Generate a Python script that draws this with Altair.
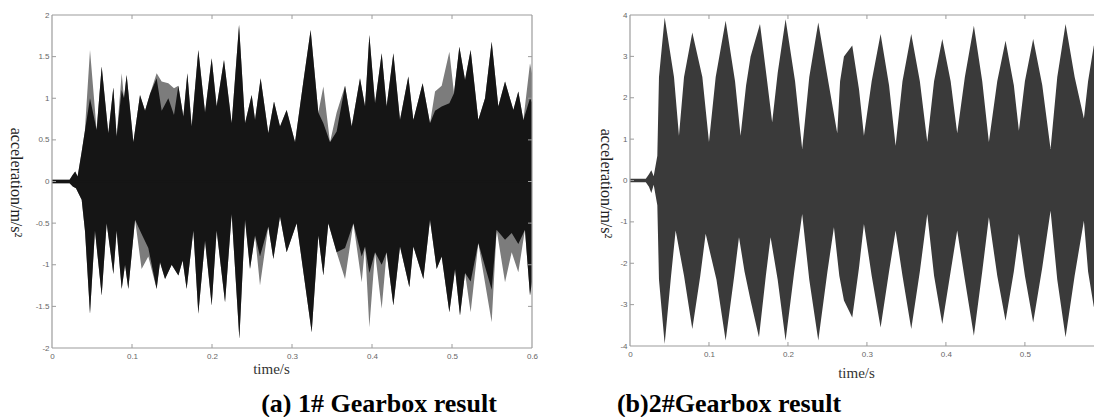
import altair as alt
import pandas as pd

# ---------------- Panel (a): 1# gearbox (envelope) ----------------
a_up_t = [0.000, 0.022, 0.026, 0.029, 0.032, 0.037, 0.041, 0.0475, 0.0558, 0.0621, 0.0704, 0.0767,
          0.0808, 0.0871, 0.0900, 0.0933, 0.1017, 0.1100, 0.1163, 0.1225, 0.1308, 0.1371, 0.1454,
          0.1525, 0.1579, 0.1642, 0.1692, 0.1746, 0.1829, 0.1913, 0.1996, 0.2058, 0.2150, 0.2246,
          0.2338, 0.2413, 0.2496, 0.2538, 0.2608, 0.2704, 0.2775, 0.2850, 0.2933, 0.3038, 0.3142,
          0.3233, 0.3329, 0.3392, 0.3475, 0.3558, 0.3663, 0.3746, 0.3850, 0.3913, 0.3967, 0.4038,
          0.4121, 0.4183, 0.4267, 0.4350, 0.4454, 0.4517, 0.4633, 0.4725, 0.4788, 0.4871, 0.4967,
          0.5025, 0.5092, 0.5163, 0.5233, 0.5329, 0.5413, 0.5496, 0.5579, 0.5663, 0.5767, 0.5829,
          0.5892, 0.5975, 0.6000]
a_up_gray = [0.02, 0.02, 0.08, 0.12, 0.06, 0.35, 0.60, 1.58, 0.62, 1.38, 0.58, 1.13,
             0.54, 1.30, 1.00, 1.28, 0.47, 1.04, 0.85, 1.05, 1.30, 1.20, 1.18,
             1.12, 1.15, 0.78, 1.30, 0.66, 1.58, 0.83, 1.48, 0.90, 1.46, 0.70,
             1.88, 0.70, 1.04, 0.74, 1.24, 0.58, 0.96, 0.66, 0.86, 0.47, 1.20,
             1.82, 0.83, 1.14, 0.47, 0.83, 1.15, 0.66, 1.24, 0.90, 1.76, 0.94,
             1.54, 0.90, 1.54, 0.74, 1.26, 0.74, 1.18, 0.70, 1.08, 1.15, 1.56,
             1.06, 1.62, 1.22, 1.58, 0.74, 1.00, 1.68, 0.90, 1.20, 0.86, 1.08,
             0.74, 1.42, 1.30]
a_up_black = [0.02, 0.02, 0.08, 0.12, 0.06, 0.35, 0.60, 1.00, 0.62, 1.38, 0.58, 1.13,
              0.54, 1.10, 1.00, 1.28, 0.47, 1.04, 0.85, 1.05, 1.24, 0.85, 1.00,
              0.80, 1.15, 0.78, 1.30, 0.66, 1.58, 0.83, 1.48, 0.90, 1.46, 0.70,
              1.88, 0.70, 1.04, 0.74, 1.24, 0.58, 0.96, 0.66, 0.86, 0.47, 1.20,
              1.82, 0.83, 0.70, 0.47, 0.60, 1.15, 0.66, 1.24, 0.90, 1.76, 0.94,
              1.54, 0.90, 1.54, 0.74, 1.26, 0.74, 1.18, 0.70, 0.85, 0.90, 0.94,
              1.06, 1.62, 1.22, 1.58, 0.74, 1.00, 1.68, 0.90, 1.20, 0.86, 1.08,
              0.74, 1.00, 0.95]

a_lo_t = [0.000, 0.022, 0.026, 0.030, 0.0371, 0.0413, 0.0475, 0.0537, 0.0621, 0.0683, 0.0767,
          0.0808, 0.0871, 0.0913, 0.0954, 0.1038, 0.1120, 0.1204, 0.1308, 0.1350, 0.1413, 0.1496,
          0.1580, 0.1633, 0.1683, 0.1767, 0.1829, 0.1913, 0.1996, 0.2058, 0.2163, 0.2246, 0.2342,
          0.2413, 0.2475, 0.2538, 0.2600, 0.2704, 0.2767, 0.2850, 0.2933, 0.3058, 0.3246, 0.3329,
          0.3392, 0.3454, 0.3558, 0.3663, 0.3767, 0.3871, 0.3913, 0.3967, 0.4038, 0.4121, 0.4183,
          0.4267, 0.4350, 0.4467, 0.4517, 0.4642, 0.4725, 0.4808, 0.4871, 0.4967, 0.5038, 0.5100,
          0.5163, 0.5233, 0.5329, 0.5496, 0.5558, 0.5663, 0.5746, 0.5829, 0.5912, 0.5975, 0.6000]
a_lo_gray = [-0.02, -0.02, -0.06, -0.08, -0.22, -0.60, -1.59, -0.59, -1.37, -0.50, -1.11,
             -0.59, -1.29, -1.00, -1.29, -0.46, -1.05, -0.90, -1.29, -0.97, -1.17, -1.00,
             -1.13, -0.95, -1.29, -0.59, -1.59, -0.71, -1.49, -0.59, -1.45, -0.39, -1.89,
             -0.46, -1.05, -0.65, -1.25, -0.54, -0.93, -0.42, -0.85, -0.50, -1.81, -0.65,
             -1.13, -0.50, -0.85, -1.17, -0.50, -1.21, -0.78, -1.75, -0.85, -1.53, -0.85,
             -1.49, -0.78, -1.27, -0.78, -1.17, -0.46, -1.05, -0.90, -1.57, -1.05, -1.61,
             -1.10, -1.57, -0.74, -1.69, -0.58, -1.21, -0.85, -1.09, -0.58, -1.37, -1.20]
a_lo_black = [-0.02, -0.02, -0.06, -0.08, -0.22, -0.60, -1.59, -0.59, -1.37, -0.50, -1.11,
              -0.59, -1.29, -1.00, -1.29, -0.46, -0.63, -0.80, -1.29, -0.97, -1.17, -1.00,
              -1.13, -0.95, -1.29, -0.59, -1.59, -0.71, -1.49, -0.59, -1.45, -0.39, -1.89,
              -0.46, -1.05, -0.65, -0.90, -0.54, -0.93, -0.42, -0.85, -0.50, -1.81, -0.65,
              -1.13, -0.50, -0.85, -0.80, -0.50, -0.90, -0.78, -1.10, -0.85, -1.00, -0.85,
              -1.49, -0.78, -1.27, -0.78, -1.17, -0.46, -1.05, -0.90, -1.57, -1.05, -1.61,
              -1.10, -1.20, -0.74, -1.30, -0.58, -0.70, -0.62, -0.75, -0.58, -1.37, -1.20]

# ---------------- Panel (b): 2# gearbox (lobe peaks, flank points and troughs) ----------------
b_up_t = [0.000, 0.020, 0.024, 0.027, 0.030, 0.0346, 0.0367, 0.0439, 0.0557, 0.0620, 0.0684,
          0.0789, 0.0916, 0.1000, 0.1085, 0.1211, 0.1330, 0.1400, 0.1470, 0.1527, 0.1646,
          0.1730, 0.1800, 0.1870, 0.1970, 0.2090, 0.2180, 0.2270, 0.2384, 0.2510, 0.2624,
          0.2660, 0.2709, 0.2814, 0.2900, 0.2962, 0.3060, 0.3173, 0.3280, 0.3363, 0.3450,
          0.3561, 0.3670, 0.3764, 0.3850, 0.3954, 0.4060, 0.4143, 0.4240, 0.4354, 0.4460,
          0.4544, 0.4650, 0.4755, 0.4860, 0.4924, 0.5000, 0.5105, 0.5220, 0.5325, 0.5410,
          0.5515, 0.5630, 0.5747, 0.5800, 0.5873, 0.6000]
b_up_v = [0.04, 0.04, 0.15, 0.25, 0.10, 0.60, 2.50, 3.94, 2.50, 1.08, 2.50,
          3.58, 2.50, 0.93, 2.50, 3.86, 2.40, 1.08, 2.30, 3.00, 3.78,
          2.50, 1.41, 2.60, 3.90, 2.40, 0.76, 2.50, 3.82, 2.40, 1.14,
          2.40, 3.00, 3.26, 2.20, 1.08, 2.40, 3.54, 2.30, 0.84, 2.40,
          3.54, 2.40, 0.93, 2.40, 3.42, 2.40, 1.14, 2.50, 3.74, 2.40,
          0.93, 2.40, 3.38, 2.30, 1.20, 2.40, 3.42, 2.30, 0.76, 2.50,
          3.78, 2.50, 1.50, 2.40, 3.26, 2.50]
b_lo_t = [0.000, 0.020, 0.024, 0.027, 0.030, 0.0346, 0.0367, 0.0439, 0.0520, 0.0578, 0.0684,
          0.0789, 0.0890, 0.0958, 0.1095, 0.1211, 0.1320, 0.1380, 0.1450, 0.1527, 0.1633,
          0.1720, 0.1780, 0.1870, 0.1970, 0.2080, 0.2180, 0.2270, 0.2384, 0.2500, 0.2582,
          0.2650, 0.2709, 0.2814, 0.2900, 0.2962, 0.3060, 0.3173, 0.3280, 0.3363, 0.3450,
          0.3561, 0.3670, 0.3764, 0.3850, 0.3954, 0.4060, 0.4143, 0.4240, 0.4354, 0.4460,
          0.4544, 0.4650, 0.4755, 0.4860, 0.4924, 0.5000, 0.5105, 0.5220, 0.5325, 0.5410,
          0.5515, 0.5630, 0.5747, 0.5800, 0.5873, 0.6000]
b_lo_v = [-0.04, -0.04, -0.15, -0.30, -0.10, -0.60, -2.40, -3.95, -2.30, -1.21, -2.30,
          -3.59, -2.30, -1.29, -2.40, -3.87, -2.30, -1.37, -2.20, -2.90, -3.79,
          -2.30, -1.37, -2.40, -3.87, -2.20, -0.81, -2.40, -3.87, -2.20, -1.13,
          -2.30, -2.90, -3.31, -2.10, -1.05, -2.30, -3.55, -2.20, -1.21, -2.30,
          -3.59, -2.20, -0.81, -2.30, -3.47, -2.20, -1.21, -2.40, -3.75, -2.20,
          -0.89, -2.30, -3.39, -2.20, -1.29, -2.30, -3.43, -2.10, -0.73, -2.40,
          -3.79, -2.30, -0.97, -2.20, -3.06, -2.00]

# ---------------- Axes / text ----------------
a_xlabels = [0, 0.1, 0.2, 0.3, 0.4, 0.5, 0.6]
a_xticks = [0.1, 0.2, 0.3, 0.4, 0.5]
a_ylabels = [-2, -1.5, -1, -0.5, 0, 0.5, 1, 1.5, 2]
a_yticks = [-1.5, -1, -0.5, 0, 0.5, 1, 1.5]
b_xlabels = [0, 0.1, 0.2, 0.3, 0.4, 0.5]
b_xticks = [0.1, 0.2, 0.3, 0.4, 0.5]
b_ylabels = [-4, -3, -2, -1, 0, 1, 2, 3, 4]
b_yticks = [-3, -2, -1, 0, 1, 2, 3]
x_title = "time/s"
y_title = "acceleration/m/s\u00b2"
caption_a = "(a) 1# Gearbox result"
caption_b = "(b)2#Gearbox result"

FRAME = "#9c9c9c"
LABEL_FONT = "Liberation Sans"
SERIF = "Liberation Serif"


def make_axes(xlabels, ylabels, xt_x, xt_y, yt_x, yt_y):
    xaxis = alt.Axis(values=xlabels, labelExpr="'' + datum.value", title=x_title,
                     titleX=xt_x, titleY=xt_y, titleAlign="center", titleBaseline="alphabetic",
                     titleFont=SERIF, titleFontSize=15, titleFontWeight="normal", titleColor="#333333",
                     domain=False, ticks=False, grid=False, labelFont=LABEL_FONT, labelFontSize=8,
                     labelColor="#666666", labelPadding=4, labelFlush=False, labelOverlap=False)
    yaxis = alt.Axis(values=ylabels, labelExpr="'' + datum.value", title=y_title,
                     titleAngle=90, titleX=yt_x, titleY=yt_y, titleAlign="center", titleBaseline="middle",
                     titleFont=SERIF, titleFontSize=16, titleFontWeight="normal", titleColor="#222222",
                     domain=False, ticks=False, grid=False, labelFont=LABEL_FONT, labelFontSize=8,
                     labelColor="#666666", labelPadding=3, labelOverlap=False)
    return xaxis, yaxis


def panel(areas, zero_color, W, H, xdom, ydom, xlabels, ylabels, xticks, yticks, titles, caption,
          cap_x, right_frame=True, anchor=False):
    xs = alt.Scale(domain=xdom, nice=False, zero=False)
    ys = alt.Scale(domain=ydom, nice=False, zero=False)
    xaxis, yaxis = make_axes(xlabels, ylabels, *titles)
    layers = []
    for df, field, color, interp in areas:
        layers.append(
            alt.Chart(df).mark_area(color=color, interpolate=interp, clip=True, opacity=1).encode(
                x=alt.X("t:Q", scale=xs, axis=xaxis),
                y=alt.Y(f"{field}:Q", scale=ys, axis=yaxis),
                y2=alt.datum(0),
            )
        )
    one = pd.DataFrame({"k": [0]})
    # seam at zero between upper and lower envelopes
    layers.append(alt.Chart(one).mark_rule(color=zero_color, strokeWidth=2).encode(
        x=alt.value(0), x2=alt.value(W), y=alt.Y(datum=0, scale=ys, axis=yaxis)))
    # frame
    frame = [
        alt.Chart(one).mark_rule(color=FRAME, strokeWidth=1.2).encode(
            x=alt.value(0), x2=alt.value(W), y=alt.value(0)),
        alt.Chart(one).mark_rule(color=FRAME, strokeWidth=1.2).encode(
            x=alt.value(0), x2=alt.value(W), y=alt.value(H)),
        alt.Chart(one).mark_rule(color=FRAME, strokeWidth=1.2).encode(
            x=alt.value(0), y=alt.value(0), y2=alt.value(H)),
    ]
    if right_frame:
        frame.append(alt.Chart(one).mark_rule(color=FRAME, strokeWidth=1.2).encode(
            x=alt.value(W), y=alt.value(0), y2=alt.value(H)))
    xt = pd.DataFrame({"t": xticks})
    yt = pd.DataFrame({"v": yticks})
    ticks = [
        alt.Chart(xt).mark_rule(color=FRAME).encode(
            x=alt.X("t:Q", scale=xs, axis=xaxis), y=alt.value(H), y2=alt.value(H - 4)),
        alt.Chart(xt).mark_rule(color=FRAME).encode(
            x=alt.X("t:Q", scale=xs, axis=xaxis), y=alt.value(0), y2=alt.value(4)),
        alt.Chart(yt).mark_rule(color=FRAME).encode(
            y=alt.Y("v:Q", scale=ys, axis=yaxis), x=alt.value(0), x2=alt.value(4)),
    ]
    if right_frame:
        ticks.append(alt.Chart(yt).mark_rule(color=FRAME).encode(
            y=alt.Y("v:Q", scale=ys, axis=yaxis), x=alt.value(W), x2=alt.value(W - 4)))
    cap = alt.Chart(pd.DataFrame({"c": [caption]})).mark_text(
        font=SERIF, fontSize=26, fontWeight="bold", align="center", baseline="alphabetic",
        color="#000000").encode(x=alt.value(cap_x), y=alt.value(397), text="c:N")
    extra = []
    if anchor:
        extra.append(alt.Chart(one).mark_rule(strokeWidth=0, strokeOpacity=0, opacity=0).encode(
            x=alt.value(-52), x2=alt.value(-52), y=alt.value(-15), y2=alt.value(-15)))
    return alt.layer(*layers, *frame, *ticks, cap, *extra).properties(width=W, height=H)


df_a_up = pd.DataFrame({"t": a_up_t, "gray": a_up_gray, "black": a_up_black})
df_a_lo = pd.DataFrame({"t": a_lo_t, "gray": a_lo_gray, "black": a_lo_black})
df_b_up = pd.DataFrame({"t": b_up_t, "v": b_up_v})
df_b_lo = pd.DataFrame({"t": b_lo_t, "v": b_lo_v})

pa = panel(
    [(df_a_up, "gray", "#7c7c7c", "linear"), (df_a_lo, "gray", "#7c7c7c", "linear"),
     (df_a_up, "black", "#151515", "linear"), (df_a_lo, "black", "#151515", "linear")],
    "#151515", 480, 333, [0, 0.6], [-2, 2], a_xlabels, a_ylabels, a_xticks, a_yticks,
    (219, 25, -37, 167), caption_a, 327, right_frame=True, anchor=True)

pb = panel(
    [(df_b_up, "v", "#3a3a3a", "linear"), (df_b_lo, "v", "#3a3a3a", "linear")],
    "#3a3a3a", 464, 331, [0, 0.5875], [-4, 4], b_xlabels, b_ylabels, b_xticks, b_yticks,
    (226, 31, -25, 168), caption_b, 99, right_frame=False)

chart = alt.hconcat(pa, pb, spacing=98, bounds="flush").properties(
    padding={"left": 0, "top": 0, "right": 0, "bottom": 0}, background="white"
).configure_view(stroke=None)

chart.save("out.html", embed_options={"renderer": "svg", "actions": False})
